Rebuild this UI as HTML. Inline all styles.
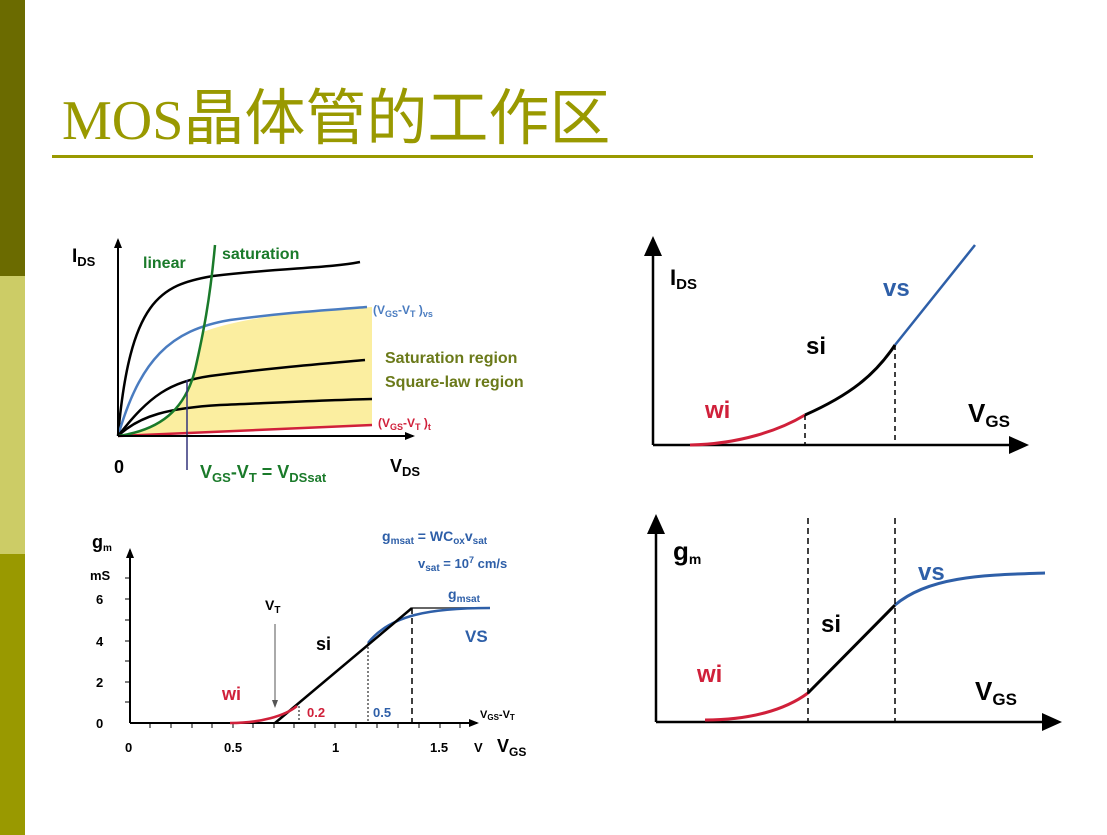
<!DOCTYPE html>
<html><head><meta charset="utf-8"><style>
body{margin:0;width:1107px;height:835px;background:#fff;overflow:hidden;position:relative;font-family:"Liberation Sans","Noto Sans CJK SC",sans-serif}
.bar{position:absolute;left:0;width:25px}
svg text{font-family:"Liberation Sans",sans-serif;font-weight:bold}
</style></head><body>
<div class="bar" style="top:0;height:276px;background:#6b6b00"></div>
<div class="bar" style="top:276px;height:278px;background:#cccc66"></div>
<div class="bar" style="top:554px;height:281px;background:#999900"></div>
<div style="position:absolute;left:62px;top:80px;color:#999900;white-space:nowrap;line-height:66px"><span style="font-family:'Liberation Serif',serif;font-size:56px">MOS</span><span style="font-family:'Noto Sans CJK SC',sans-serif;font-size:61px">晶体管的工作区</span></div>
<div style="position:absolute;left:52px;top:155px;width:981px;height:3px;background:#999900"></div>
<svg width="1107" height="835" style="position:absolute;left:0;top:0">
<defs><marker id="a" markerUnits="userSpaceOnUse" markerWidth="10" markerHeight="10" refX="8" refY="5" orient="auto"><path d="M0,1L10,5L0,9z" fill="#000"/></marker>
<marker id="b" markerUnits="userSpaceOnUse" markerWidth="20" markerHeight="20" refX="16" refY="10" orient="auto"><path d="M0,1L20,10L0,19z" fill="#000"/></marker>
<marker id="g" markerUnits="userSpaceOnUse" markerWidth="8" markerHeight="8" refX="6" refY="4" orient="auto"><path d="M0,1L8,4L0,7z" fill="#555"/></marker></defs>
<!-- top-left -->
<path d="M118,436 C160,430 185,410 195,370 C199,352 201,340 203,332 C240,318 300,311 372,307 L372,425 L118,436z" fill="#fbeea0"/>
<g fill="none" stroke-width="2.5">
<path d="M118,436 C130,300 160,285 213,276 C280,268 330,268 360,262" stroke="#000"/>
<path d="M118,436 C140,360 170,330 230,320 C290,312 330,310 367,307" stroke="#4a7cc0"/>
<path d="M118,436 C150,395 170,382 210,376 C270,368 320,364 365,360" stroke="#000"/>
<path d="M118,436 C140,415 170,408 220,405 C290,402 330,400 372,399" stroke="#000"/>
<path d="M118,436 L372,425" stroke="#d0203a"/>
<path d="M118,436 C160,430 185,410 195,370 C203,335 210,300 215,245" stroke="#1a7a2a"/>
</g>
<line x1="187" y1="380" x2="187" y2="470" stroke="#33337a" stroke-width="1.5"/>
<line x1="118" y1="436" x2="118" y2="240" stroke="#000" stroke-width="2" marker-end="url(#a)"/>
<line x1="118" y1="436" x2="413" y2="436" stroke="#000" stroke-width="2" marker-end="url(#a)"/>
<text x="72" y="262" font-size="19">I<tspan font-size="13" dy="4">DS</tspan></text>
<text x="143" y="268" font-size="16" fill="#1a7a2a">linear</text>
<text x="222" y="259" font-size="16" fill="#1a7a2a">saturation</text>
<text x="373" y="314" font-size="12" fill="#4a7cc0">(V<tspan font-size="9" dy="3">GS</tspan><tspan dy="-3">-V</tspan><tspan font-size="9" dy="3">T</tspan><tspan dy="-3"> )</tspan><tspan font-size="9" dy="3">vs</tspan></text>
<text x="385" y="363" font-size="16" fill="#6b7a1a">Saturation region</text>
<text x="385" y="387" font-size="16" fill="#6b7a1a">Square-law region</text>
<text x="378" y="427" font-size="12" fill="#d0203a">(V<tspan font-size="9" dy="3">GS</tspan><tspan dy="-3">-V</tspan><tspan font-size="9" dy="3">T</tspan><tspan dy="-3"> )</tspan><tspan font-size="9" dy="3">t</tspan></text>
<text x="114" y="473" font-size="18">0</text>
<text x="200" y="478" font-size="18" fill="#1a7a2a">V<tspan font-size="13" dy="4">GS</tspan><tspan dy="-4">-V</tspan><tspan font-size="13" dy="4">T</tspan><tspan dy="-4"> = V</tspan><tspan font-size="13" dy="4">DSsat</tspan></text>
<text x="390" y="472" font-size="18">V<tspan font-size="13" dy="4">DS</tspan></text>
<!-- bottom-left -->
<g stroke="#000" stroke-width="1">
<line x1="125" y1="620" x2="130" y2="620"/><line x1="125" y1="578" x2="130" y2="578"/><line x1="125" y1="599" x2="130" y2="599"/><line x1="125" y1="641" x2="130" y2="641"/><line x1="125" y1="661" x2="130" y2="661"/><line x1="125" y1="682" x2="130" y2="682"/><line x1="125" y1="702" x2="130" y2="702"/>
<line x1="150" y1="723" x2="150" y2="728"/><line x1="171" y1="723" x2="171" y2="728"/><line x1="192" y1="723" x2="192" y2="728"/><line x1="212" y1="723" x2="212" y2="728"/><line x1="233" y1="723" x2="233" y2="728"/><line x1="253" y1="723" x2="253" y2="728"/><line x1="274" y1="723" x2="274" y2="728"/><line x1="294" y1="723" x2="294" y2="728"/><line x1="315" y1="723" x2="315" y2="728"/><line x1="335" y1="723" x2="335" y2="728"/><line x1="356" y1="723" x2="356" y2="728"/><line x1="377" y1="723" x2="377" y2="728"/><line x1="398" y1="723" x2="398" y2="728"/><line x1="419" y1="723" x2="419" y2="728"/><line x1="440" y1="723" x2="440" y2="728"/><line x1="460" y1="723" x2="460" y2="728"/>
</g>
<line x1="130" y1="723" x2="130" y2="550" stroke="#000" stroke-width="2" marker-end="url(#a)"/>
<line x1="130" y1="723" x2="477" y2="723" stroke="#000" stroke-width="2" marker-end="url(#a)"/>
<line x1="412" y1="608" x2="490" y2="608" stroke="#666" stroke-width="2"/>
<path d="M368,643 C390,615 430,608 490,608" fill="none" stroke="#2e5fa8" stroke-width="2.5"/>
<line x1="275" y1="723" x2="412" y2="608" stroke="#000" stroke-width="2.5"/>
<path d="M230,723 C260,723 285,716 297,706" fill="none" stroke="#d0203a" stroke-width="2.5"/>
<line x1="299" y1="706" x2="299" y2="723" stroke="#000" stroke-dasharray="2,2"/>
<line x1="368" y1="643" x2="368" y2="723" stroke="#000" stroke-dasharray="2,2"/>
<line x1="412" y1="608" x2="412" y2="723" stroke="#000" stroke-width="1.5" stroke-dasharray="6,4"/>
<line x1="275" y1="624" x2="275" y2="706" stroke="#555" stroke-width="1" marker-end="url(#g)"/>
<text x="92" y="548" font-size="18">g<tspan font-size="10" dy="3">m</tspan></text>
<text x="90" y="580" font-size="13">mS</text>
<text x="96" y="604" font-size="13">6</text><text x="96" y="646" font-size="13">4</text><text x="96" y="687" font-size="13">2</text><text x="96" y="728" font-size="13">0</text>
<text x="125" y="752" font-size="13">0</text><text x="224" y="752" font-size="13">0.5</text><text x="332" y="752" font-size="13">1</text><text x="430" y="752" font-size="13">1.5</text>
<text x="474" y="752" font-size="13" font-weight="normal">V</text>
<text x="497" y="752" font-size="18">V<tspan font-size="12" dy="4">GS</tspan></text>
<text x="265" y="610" font-size="14" font-weight="normal">V<tspan font-size="10" dy="3">T</tspan></text>
<text x="222" y="700" font-size="18" fill="#d0203a">wi</text>
<text x="316" y="650" font-size="18">si</text>
<text x="465" y="642" font-size="17" fill="#2e5fa8">VS</text>
<text x="448" y="599" font-size="14" fill="#2e5fa8">g<tspan font-size="10" dy="3">msat</tspan></text>
<text x="307" y="717" font-size="13" fill="#d0203a">0.2</text>
<text x="373" y="717" font-size="13" fill="#2e5fa8">0.5</text>
<text x="480" y="718" font-size="11" font-weight="normal">V<tspan font-size="8" dy="2">GS</tspan><tspan dy="-2">-V</tspan><tspan font-size="8" dy="2">T</tspan></text>
<text x="382" y="541" font-size="14" fill="#2e5fa8">g<tspan font-size="10" dy="3">msat</tspan><tspan dy="-3"> = WC</tspan><tspan font-size="10" dy="3">ox</tspan><tspan dy="-3">v</tspan><tspan font-size="10" dy="3">sat</tspan></text>
<text x="418" y="568" font-size="13" fill="#2e5fa8">v<tspan font-size="10" dy="3">sat</tspan><tspan dy="-3"> = 10</tspan><tspan font-size="9" dy="-5">7</tspan><tspan dy="5"> cm/s</tspan></text>
<!-- top-right -->
<line x1="653" y1="445" x2="653" y2="240" stroke="#000" stroke-width="2.5" marker-end="url(#b)"/>
<line x1="653" y1="445" x2="1025" y2="445" stroke="#000" stroke-width="2.5" marker-end="url(#b)"/>
<path d="M690,445 C740,444 780,430 805,415" fill="none" stroke="#d0203a" stroke-width="3"/>
<path d="M805,415 C850,395 875,375 895,345" fill="none" stroke="#000" stroke-width="3"/>
<line x1="895" y1="345" x2="975" y2="245" stroke="#2e5fa8" stroke-width="2.5"/>
<line x1="805" y1="415" x2="805" y2="445" stroke="#000" stroke-width="1.5" stroke-dasharray="5,4"/>
<line x1="895" y1="345" x2="895" y2="445" stroke="#000" stroke-width="1.5" stroke-dasharray="5,4"/>
<text x="670" y="285" font-size="22" font-weight="normal">I<tspan font-size="15" dy="4">DS</tspan></text>
<text x="705" y="418" font-size="24" fill="#d0203a">wi</text>
<text x="806" y="354" font-size="24">si</text>
<text x="883" y="296" font-size="24" fill="#2e5fa8">vs</text>
<text x="968" y="422" font-size="26" font-weight="normal">V<tspan font-size="17" dy="5">GS</tspan></text>
<!-- bottom-right -->
<line x1="656" y1="722" x2="656" y2="518" stroke="#000" stroke-width="2.5" marker-end="url(#b)"/>
<line x1="656" y1="722" x2="1058" y2="722" stroke="#000" stroke-width="2.5" marker-end="url(#b)"/>
<path d="M705,720 C750,720 785,710 808,693" fill="none" stroke="#d0203a" stroke-width="3"/>
<line x1="808" y1="693" x2="895" y2="605" stroke="#000" stroke-width="3"/>
<path d="M895,605 C930,575 990,575 1045,573" fill="none" stroke="#2e5fa8" stroke-width="3"/>
<line x1="808" y1="518" x2="808" y2="722" stroke="#000" stroke-width="1.5" stroke-dasharray="6,4"/>
<line x1="895" y1="518" x2="895" y2="722" stroke="#000" stroke-width="1.5" stroke-dasharray="6,4"/>
<text x="673" y="560" font-size="26" font-weight="normal">g<tspan font-size="14" dy="4">m</tspan></text>
<text x="697" y="682" font-size="24" fill="#d0203a">wi</text>
<text x="821" y="632" font-size="24">si</text>
<text x="918" y="580" font-size="24" fill="#2e5fa8">vs</text>
<text x="975" y="700" font-size="26" font-weight="normal">V<tspan font-size="17" dy="5">GS</tspan></text>
</svg>
</body></html>
